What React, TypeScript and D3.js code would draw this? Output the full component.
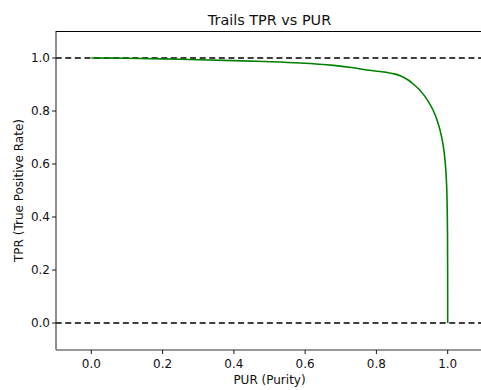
import React from "react";
import * as d3 from "d3";

const purValues = [0, 0.1, 0.25, 0.4, 0.5, 0.586, 0.68, 0.73, 0.773, 0.81, 0.85, 0.87, 0.89, 0.905, 0.92, 0.935, 0.95, 0.96, 0.97, 0.978, 0.985, 0.99, 0.994, 0.997, 0.9985, 0.9995, 1.0];
const tprValues = [1.0, 0.999, 0.995, 0.99, 0.986, 0.981, 0.972, 0.964, 0.955, 0.949, 0.940, 0.931, 0.916, 0.9, 0.881, 0.857, 0.826, 0.8, 0.766, 0.73, 0.688, 0.645, 0.59, 0.52, 0.44, 0.33, 0.0];
const xTicks = [0.0, 0.2, 0.4, 0.6, 0.8, 1.0];
const yTicks = [0.0, 0.2, 0.4, 0.6, 0.8, 1.0];
const refLines = [0.0, 1.0];

const W = 481;
const H = 390;
const FONT = "DejaVu Sans, sans-serif";

export default function App() {
  const x = d3.scaleLinear().domain([-0.1, 1.1]).range([55.66, 483.34]);
  const y = d3.scaleLinear().domain([-0.1, 1.1]).range([349.5, 31.5]);
  const pts = purValues.map((v, i) => [v, tprValues[i]] as [number, number]);
  const line = d3
    .line<[number, number]>()
    .x((d) => x(d[0]))
    .y((d) => y(d[1]))
    .curve(d3.curveCatmullRom.alpha(0.5));
  const [x0, x1] = x.range();
  const [yb, yt] = y.range();
  return (
    <svg width={W} height={H} style={{ position: "absolute", left: 0, top: 0 }}>
      <rect width={W} height={H} fill="white" />
      <defs>
        <clipPath id="plot">
          <rect x={x0} y={yt} width={x1 - x0} height={yb - yt} />
        </clipPath>
      </defs>
      <g clipPath="url(#plot)">
        {refLines.map((v) => (
          <line key={v} x1={x0} x2={x1} y1={y(v)} y2={y(v)} stroke="black" strokeWidth={1.6} strokeDasharray="6,3.6" />
        ))}
        <path d={line(pts) || ""} fill="none" stroke="#008000" strokeWidth={1.6} />
      </g>
      {/* spines */}
      <line x1={x0} x2={x1} y1={yt} y2={yt} stroke="black" strokeWidth={1} />
      <line x1={56} x2={56} y1={yt} y2={yb} stroke="#333" strokeWidth={1.1} />
      <line x1={x0} x2={x1} y1={350} y2={350} stroke="#333" strokeWidth={1.1} />
      {xTicks.map((t) => (
        <g key={"x" + t}>
          <line x1={x(t)} x2={x(t)} y1={350} y2={354} stroke="black" strokeWidth={0.9} />
          <text x={x(t)} y={368} textAnchor="middle" fontFamily={FONT} fontSize={12} fill="#111">
            {t.toFixed(1)}
          </text>
        </g>
      ))}
      {yTicks.map((t) => (
        <g key={"y" + t}>
          <line x1={52} x2={56} y1={y(t)} y2={y(t)} stroke="black" strokeWidth={0.9} />
          <text x={50} y={y(t) + 4.3} textAnchor="end" fontFamily={FONT} fontSize={12} fill="#111">
            {t.toFixed(1)}
          </text>
        </g>
      ))}
      <text x={(x0 + x1) / 2} y={384} textAnchor="middle" fontFamily={FONT} fontSize={12} fill="#111">
        PUR (Purity)
      </text>
      <text
        transform={`translate(23,${(yt + yb) / 2}) rotate(-90)`}
        textAnchor="middle"
        fontFamily={FONT}
        fontSize={12}
        fill="#111"
      >
        TPR (True Positive Rate)
      </text>
      <text x={(x0 + x1) / 2} y={25} textAnchor="middle" fontFamily={FONT} fontSize={14.4} fill="#111">
        Trails TPR vs PUR
      </text>
    </svg>
  );
}
